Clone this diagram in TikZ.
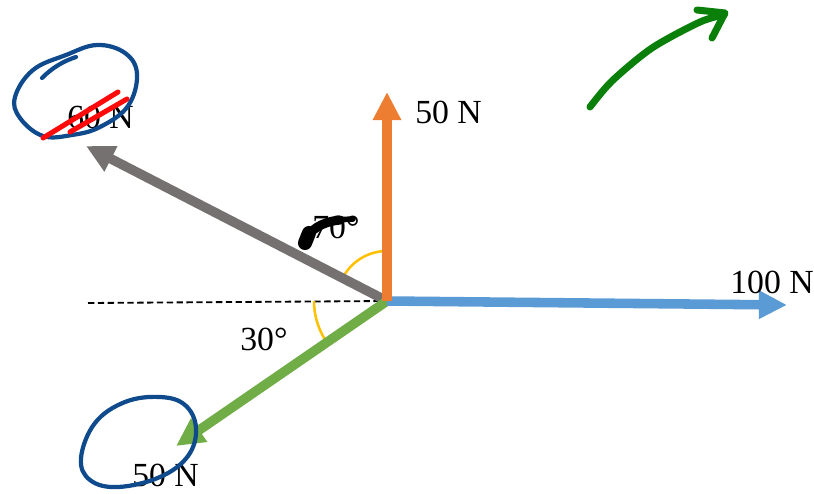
\documentclass[tikz,border=0pt]{standalone}
\usepackage{fontspec}
\setmainfont{Liberation Serif}
\usepackage{tikz}
\usetikzlibrary{arrows.meta}
\definecolor{porange}{HTML}{ED7D31}
\definecolor{pblue}{HTML}{5B9BD5}
\definecolor{pgray}{HTML}{767171}
\definecolor{pgreen}{HTML}{70AD47}
\definecolor{pyellow}{HTML}{FFC000}
\definecolor{inkblue}{HTML}{0E4A8C}
\definecolor{inkred}{HTML}{FF0A0A}
\definecolor{inkgreen}{HTML}{0A800A}

\begin{document}
\begin{tikzpicture}[x=0.025cm,y=-0.025cm,
    force/.style={line width=6.8pt,-{Triangle[length=20pt,width=19pt]}},
    lbl/.style={font=\fontsize{24}{28}\selectfont,inner sep=0pt,anchor=base west},
    angarc/.style={pyellow,line width=1.8pt},
    ink/.style={line width=3pt,line cap=round,line join=round}]

      \useasboundingbox (0,0) rectangle (814,493);

      % origin and arrow tips
      \coordinate (O) at (387,301);
      \coordinate (tUp) at (387,92);
      \coordinate (tRight) at (787,305);
      \coordinate (tLeft) at (86,146);
      \coordinate (tDown) at (176,446);
      \coordinate (dEnd) at (88,303);

      % reference line
      \draw[dashed,dash pattern=on 4.5pt off 2.5pt,line width=1.3pt] (dEnd) -- (O);

      % angle arcs
      \draw[angarc] (O) ++(212:50) arc (212:268:50);
      \draw[angarc] (O) ++(180:73) arc (180:148:73);

      % forces
      \draw[force,pgray] (O) -- (tLeft);
      \draw[force,pgreen] (O) -- (tDown);
      \draw[force,pblue] (O) -- (tRight);
      \draw[force,porange] (O) -- (tUp);

      % labels
      \node[lbl] (lUp) at (415,123) {50 N};
      \node[lbl] (lRight) at (730,293) {100 N};
      \node[lbl] (lLeft) at (67,128) {60 N};
      \node[lbl] (lDown) at (132,486) {50 N};
      \node[lbl] (lSeventy) at (312,238) {70°};
      \node[lbl] (lThirty) at (240,350) {30°};

      % pen marks
      \draw[ink,inkblue] plot[smooth cycle,tension=0.65] coordinates {
        (97,45) (125,53) (137,74) (128,106) (100,127) (72,135)
        (43,136) (20,118) (15,97) (33,70) (66,55)};
      \draw[ink,inkblue] (42,78) .. controls (53,67) and (64,61) .. (76,57);
      \draw[ink,inkblue] plot[smooth cycle,tension=0.65] coordinates {
        (160,397) (185,405) (196,428) (188,456) (160,477) (118,487)
        (90,480) (81,458) (95,423) (125,402)};
      \draw[ink,inkred,line width=3.6pt] (43,138) -- (118,92);
      \draw[ink,inkred,line width=3.6pt] (70,132) -- (127,99);
      \draw[ink,black,line width=10pt] (305,243) -- (309,233);
      \draw[ink,black,line width=6.5pt] (307,237) .. controls (314,226) and (328,221) .. (340,220);
      \draw[ink,black,line width=4pt] (335,220) -- (353,219);
      \draw[ink,inkgreen,line width=5pt] plot[smooth] coordinates {
        (590,107) (612,81) (652,48) (700,22) (724,15)};
      \draw[ink,inkgreen,line width=5pt] (697,10) -- (725,13) -- (712,38);

\end{tikzpicture}
\end{document}
